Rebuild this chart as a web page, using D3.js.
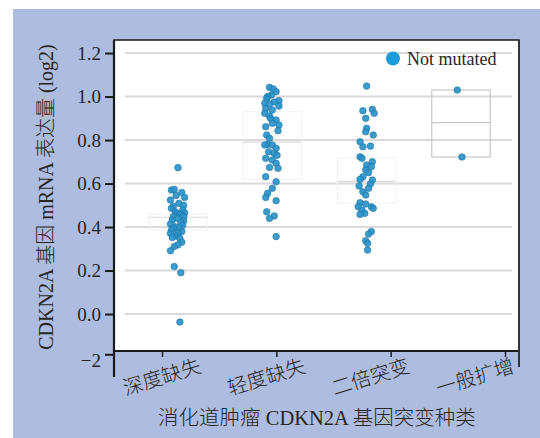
<!DOCTYPE html>
<html>
<head>
<meta charset="utf-8">
<script src="https://cdnjs.cloudflare.com/ajax/libs/d3/7.8.5/d3.min.js"></script>
<style>
  body { margin: 0; background: #fff; }
  text { font-family: "Liberation Serif", "Noto Sans CJK SC", serif; fill: #262626; }
</style>
</head>
<body>
<div id="chart"></div>
<script>
// categories and values (value, jitter as fraction of the category step)
var categories = ["深度缺失", "轻度缺失", "二倍突变", "一般扩增"];

var deepLoss = [
  [0.673, 0.00], [0.570, -0.07], [0.573, -0.04], [0.559, 0.04], [0.536, 0.07],
  [0.545, -0.02], [0.524, -0.08], [0.509, 0.01], [0.500, 0.06], [0.495, -0.05],
  [0.486, -0.07], [0.478, 0.05], [0.470, -0.03], [0.465, 0.07], [0.463, -0.01],
  [0.460, 0.03], [0.455, 0.02], [0.447, -0.05], [0.447, 0.06], [0.440, 0.00],
  [0.432, -0.06], [0.428, 0.06], [0.420, 0.03], [0.414, -0.08], [0.408, 0.05],
  [0.401, -0.03], [0.395, -0.05], [0.394, 0.02], [0.386, -0.07], [0.380, 0.04],
  [0.371, 0.00], [0.371, -0.08], [0.359, -0.02], [0.352, -0.06], [0.348, 0.02],
  [0.330, 0.04], [0.318, 0.00], [0.310, -0.04], [0.291, -0.08], [0.218, -0.04],
  [0.190, 0.03], [-0.037, 0.02]
];
var shallowLoss = [
  [1.042, -0.03], [1.035, 0.01], [1.022, 0.04], [1.007, -0.01], [1.000, -0.05],
  [0.992, -0.06], [0.981, 0.07], [0.975, 0.02], [0.969, -0.08], [0.966, -0.03],
  [0.956, 0.07], [0.946, -0.07], [0.938, 0.00], [0.923, -0.08], [0.910, -0.03],
  [0.900, -0.02], [0.892, 0.04], [0.877, 0.00], [0.869, 0.07], [0.861, -0.07],
  [0.843, 0.06], [0.823, -0.06], [0.808, -0.03], [0.780, -0.05], [0.777, -0.08],
  [0.777, 0.00], [0.762, 0.04], [0.746, -0.04], [0.739, 0.02], [0.730, 0.05],
  [0.716, -0.07], [0.708, 0.00], [0.693, 0.04], [0.674, -0.03], [0.670, 0.06],
  [0.631, -0.07], [0.608, 0.04], [0.578, 0.00], [0.555, -0.05], [0.536, -0.07],
  [0.521, 0.04], [0.470, -0.06], [0.451, 0.02], [0.440, -0.03], [0.356, 0.04]
];
var diploid = [
  [1.048, 0.00], [0.941, 0.06], [0.935, -0.04], [0.923, 0.08], [0.900, -0.01],
  [0.854, 0.00], [0.838, -0.01], [0.823, 0.07], [0.792, -0.07], [0.772, 0.04],
  [0.769, -0.04], [0.723, -0.07], [0.716, -0.05], [0.700, 0.06], [0.685, 0.00],
  [0.677, 0.05], [0.662, -0.01], [0.650, 0.02], [0.631, -0.04], [0.619, -0.07],
  [0.616, 0.06], [0.598, 0.04], [0.589, -0.08], [0.578, 0.02], [0.562, -0.04],
  [0.547, -0.01], [0.512, -0.07], [0.506, -0.01], [0.493, 0.05], [0.493, -0.09],
  [0.486, 0.07], [0.478, -0.05], [0.463, -0.02], [0.458, -0.07], [0.379, 0.05],
  [0.368, 0.02], [0.337, -0.01], [0.325, 0.01], [0.294, 0.01]
];
var amplification = [[1.030, -0.04], [0.722, 0.01]];

var groups = [deepLoss, shallowLoss, diploid, amplification];

// box summaries
var boxQ1 = [0.386, 0.62, 0.51, 0.722];
var boxMedian = [0.445, 0.79, 0.61, 0.88];
var boxQ3 = [0.46, 0.93, 0.717, 1.03];

var yTicks = [-0.185, 0, 0.2, 0.4, 0.6, 0.8, 1.0, 1.2];
var yTickLabels = ["\u22122", "0.0", "0.2", "0.4", "0.6", "0.8", "1.0", "1.2"];
var gridValues = [0, 0.2, 0.4, 0.6, 0.8, 1.0, 1.2];
var legendLabel = "Not mutated";

var width = 540, height = 438;
var plotLeft = 114, plotRight = 519, plotTop = 40, plotBottom = 351;

var svg = d3.select('#chart').append('svg')
  .attr('width', width)
  .attr('height', height);

svg.append('rect')
  .attr('x', 13).attr('y', 9)
  .attr('width', width - 13).attr('height', height - 9)
  .attr('fill', '#aebcdf');

var y = d3.scaleLinear().domain([-0.17, 1.26]).range([plotBottom, plotTop]);
// tick positions of the axis and positions of the data do not line up in the original
var xTick = d3.scalePoint().domain(categories).range([162, 505]);
var xData = d3.scalePoint().domain(categories).range([178, 461]);
var xLabel = d3.scalePoint().domain(categories).range([162, 475]);
var step = xData.step();

svg.append('rect')
  .attr('x', plotLeft).attr('y', plotTop)
  .attr('width', plotRight - plotLeft).attr('height', plotBottom - plotTop)
  .attr('fill', '#fff')
  .attr('stroke', '#1a1a1a')
  .attr('stroke-width', 1.5);

svg.append('g').selectAll('line')
  .data(gridValues)
  .enter().append('line')
  .attr('x1', plotLeft + 11).attr('x2', plotRight - 7)
  .attr('y1', y).attr('y2', y)
  .attr('stroke', '#d9d9d9')
  .attr('stroke-width', 2);

// boxes (only the last one is clearly drawn in the original)
var box = svg.append('g').selectAll('g')
  .data(categories)
  .enter().append('g');
box.append('rect')
  .attr('x', function(d) { return xData(d) - step * 0.31; })
  .attr('width', step * 0.62)
  .attr('y', function(d, i) { return y(boxQ3[i]); })
  .attr('height', function(d, i) { return y(boxQ1[i]) - y(boxQ3[i]); })
  .attr('fill', 'none')
  .attr('stroke', function(d, i) { return i === 3 ? '#c8c8c8' : '#f3f3f3'; })
  .attr('stroke-width', 1.2);
box.append('line')
  .attr('x1', function(d) { return xData(d) - step * 0.31; })
  .attr('x2', function(d) { return xData(d) + step * 0.31; })
  .attr('y1', function(d, i) { return y(boxMedian[i]); })
  .attr('y2', function(d, i) { return y(boxMedian[i]); })
  .attr('stroke', function(d, i) { return i === 3 ? '#c8c8c8' : '#dadada'; })
  .attr('stroke-width', 1.2);

// points
svg.append('g').selectAll('g')
  .data(groups)
  .enter().append('g')
  .each(function(pts, i) {
    d3.select(this).selectAll('circle')
      .data(pts)
      .enter().append('circle')
      .attr('cx', function(d) { return xData(categories[i]) + d[1] * step; })
      .attr('cy', function(d) { return y(d[0]); })
      .attr('r', 3.3)
      .attr('fill', '#2a93c9')
      .attr('stroke', '#1f76a5')
      .attr('stroke-width', 0.6)
      .attr('fill-opacity', 0.92);
  });

// y axis
var yAxis = d3.axisLeft(y)
  .tickValues(yTicks)
  .tickSize(9)
  .tickPadding(4)
  .tickFormat(function(d, i) { return yTickLabels[i]; });
var gy = svg.append('g')
  .attr('transform', 'translate(' + plotLeft + ',0)')
  .call(yAxis);
gy.select('.domain').remove();
gy.selectAll('.tick line').attr('stroke', '#1a1a1a').attr('stroke-width', 2);
gy.selectAll('.tick text')
  .attr('font-size', 19)
  .attr('font-family', '"Liberation Serif", serif')
  .attr('fill', '#262626')
  .attr('dy', function(d, i) { return i === 0 ? '0.62em' : '0.32em'; });
svg.append('line')
  .attr('x1', plotLeft).attr('x2', plotLeft)
  .attr('y1', plotTop).attr('y2', 377)
  .attr('stroke', '#1a1a1a').attr('stroke-width', 2.2);

// x axis
var xAxis = d3.axisBottom(xTick).tickSize(6).tickFormat('');
var gx = svg.append('g')
  .attr('transform', 'translate(0,' + plotBottom + ')')
  .call(xAxis);
gx.select('.domain').remove();
gx.selectAll('.tick line').attr('stroke', '#1a1a1a').attr('stroke-width', 1.5);
svg.append('line')
  .attr('x1', plotLeft).attr('x2', plotRight)
  .attr('y1', plotBottom).attr('y2', plotBottom)
  .attr('stroke', '#1a1a1a').attr('stroke-width', 2);
svg.append('line')
  .attr('x1', plotRight).attr('x2', plotRight)
  .attr('y1', plotTop).attr('y2', 367)
  .attr('stroke', '#333').attr('stroke-width', 2);

svg.append('g').selectAll('text')
  .data(categories)
  .enter().append('text')
  .attr('transform', function(d) { return 'translate(' + xLabel(d) + ',377) rotate(-17)'; })
  .attr('text-anchor', 'middle')
  .attr('dominant-baseline', 'central')
  .attr('font-size', 20)
  .attr('font-weight', 300)
  .text(function(d) { return d; });

// axis titles
svg.append('text')
  .attr('x', 317).attr('y', 425)
  .attr('text-anchor', 'middle')
  .attr('font-size', 20.5)
  .attr('font-weight', 300)
  .text('消化道肿瘤 CDKN2A 基因突变种类');

svg.append('text')
  .attr('transform', 'translate(53,197) rotate(-90)')
  .attr('text-anchor', 'middle')
  .attr('font-size', 20)
  .attr('font-weight', 300)
  .text('CDKN2A 基因 mRNA 表达量 (log2)');

// legend
var legend = svg.append('g')
  .attr('transform', 'translate(' + (plotRight - 126) + ',58.5)');
legend.append('circle')
  .attr('r', 7)
  .attr('fill', '#1f9ad8');
legend.append('text')
  .attr('x', 14).attr('y', 6)
  .attr('font-size', 18)
  .text(legendLabel);
</script>
</body>
</html>
